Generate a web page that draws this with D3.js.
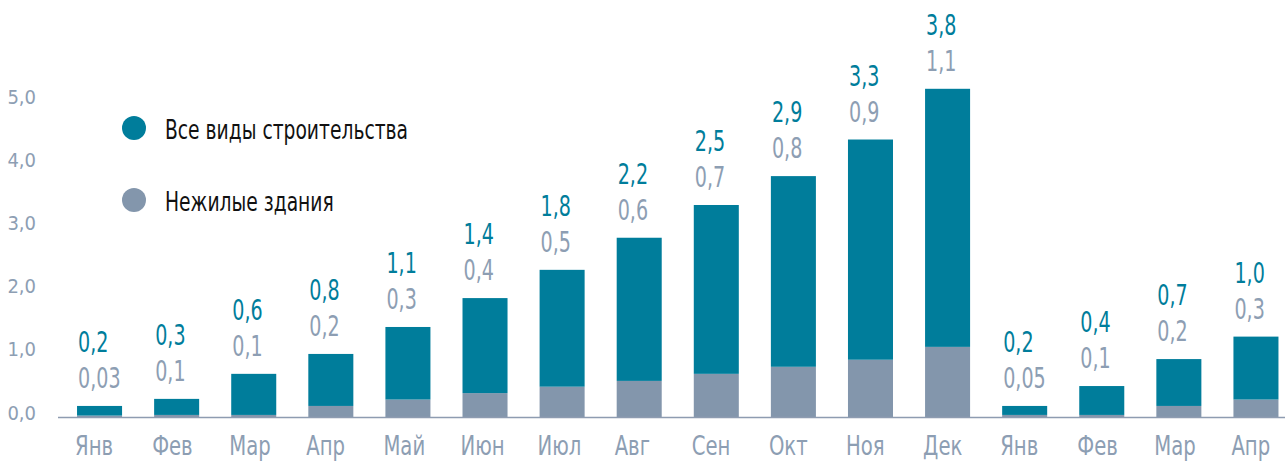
<!DOCTYPE html>
<html>
<head>
<meta charset="utf-8">
<script src="https://cdn.jsdelivr.net/npm/d3@7"></script>
<style>
  body { margin: 0; background: #fff; }
  text { font-family: "DejaVu Sans Condensed", "DejaVu Sans", sans-serif; }
</style>
</head>
<body>
<div id="chart"></div>
<script>
let months = ['Янв', 'Фев', 'Мар', 'Апр', 'Май', 'Июн', 'Июл', 'Авг', 'Сен', 'Окт', 'Ноя', 'Дек', 'Янв', 'Фев', 'Мар', 'Апр']
// segment heights as drawn in the picture
let allTypes = [0.15, 0.25, 0.64, 0.81, 1.13, 1.48, 1.82, 2.23, 2.63, 2.97, 3.43, 4.02, 0.14, 0.45, 0.73, 0.98]
let nonResidential = [0.03, 0.04, 0.04, 0.18, 0.28, 0.38, 0.48, 0.57, 0.68, 0.79, 0.90, 1.10, 0.04, 0.04, 0.18, 0.28]
// value labels printed above the bars
let allTypesLabels = ['0,2', '0,3', '0,6', '0,8', '1,1', '1,4', '1,8', '2,2', '2,5', '2,9', '3,3', '3,8', '0,2', '0,4', '0,7', '1,0']
let nonResidentialLabels = ['0,03', '0,1', '0,1', '0,2', '0,3', '0,4', '0,5', '0,6', '0,7', '0,8', '0,9', '1,1', '0,05', '0,1', '0,2', '0,3']
let yTicks = [0, 1, 2, 3, 4, 5]
let legendLabels = ['Все виды строительства', 'Нежилые здания']

let width = 1285
let height = 461
let teal = '#007d9b'
let grey = '#8396ac'
let labelGrey = '#8d9eb3'

let svg = d3.select('#chart')
  .append('svg')
    .attr('width', width)
    .attr('height', height)

let xScale = d3.scaleBand()
  .domain(d3.range(months.length))
  .range([61, 1294.5])
  .paddingInner(0.416)
  .paddingOuter(0.208)

let yScale = d3.scaleLinear().domain([0, 5]).range([417.5, 96.5])
let yLabelScale = d3.scaleLinear().domain([0, 5]).range([419, 103])

let rows = months.map((m, i) => ({ i: i, nonRes: nonResidential[i], all: allTypes[i] }))
let series = d3.stack().keys(['nonRes', 'all'])(rows)
let colors = { nonRes: grey, all: teal }

// Bars
svg.append('g')
  .selectAll('g')
  .data(series)
  .enter().append('g')
    .attr('fill', d => colors[d.key])
  .selectAll('rect')
  .data(d => d)
  .enter().append('rect')
    .attr('x', d => xScale(d.data.i))
    .attr('y', d => yScale(d[1]))
    .attr('width', xScale.bandwidth())
    .attr('height', d => yScale(d[0]) - yScale(d[1]))

// Value labels (narrowed to mimic the condensed face)
let labels = svg.append('g')
rows.forEach((d, i) => {
  let top = yScale(d.nonRes + d.all)
  labels.append('text')
    .attr('transform', `translate(${xScale(i) + 1}, ${top - 18}) scale(0.76, 1)`)
    .attr('fill', labelGrey)
    .attr('font-size', 28)
    .text(nonResidentialLabels[i])
  labels.append('text')
    .attr('transform', `translate(${xScale(i) + 1}, ${top - 54}) scale(0.76, 1)`)
    .attr('fill', teal)
    .attr('font-size', 28)
    .text(allTypesLabels[i])
})

// Baseline
svg.append('line')
  .attr('x1', 58)
  .attr('x2', width)
  .attr('y1', yScale(0))
  .attr('y2', yScale(0))
  .attr('stroke', '#8e9cb1')
  .attr('stroke-width', 1.5)

// X axis (month labels)
let xAxis = svg.append('g')
  .attr('transform', `translate(0, ${yScale(0)})`)
  .call(d3.axisBottom(xScale).tickSize(0).tickFormat(i => months[i]))
xAxis.select('.domain').remove()
xAxis.selectAll('text')
  .attr('x', 0)
  .attr('y', 0)
  .attr('dy', 0)
  .attr('transform', `translate(${-xScale.bandwidth() / 2 - 2}, 37.5) scale(0.84, 1)`)
  .attr('text-anchor', 'start')
  .attr('fill', labelGrey)
  .attr('font-size', 26)
  .attr('font-family', null)

// Y axis (tick labels only)
let yAxis = svg.append('g')
  .attr('transform', 'translate(36, 0)')
  .call(d3.axisLeft(yLabelScale).tickValues(yTicks).tickSize(0)
    .tickFormat(d => d3.format('.1f')(d).replace('.', ',')))
yAxis.select('.domain').remove()
yAxis.selectAll('text')
  .attr('x', 0)
  .attr('dy', 0)
  .attr('fill', labelGrey)
  .attr('font-size', 20)
  .attr('font-family', null)

// Legend
let legend = svg.append('g')
legendLabels.forEach((label, i) => {
  let cy = 128 + i * 72
  legend.append('circle')
    .attr('cx', 134)
    .attr('cy', cy)
    .attr('r', 12)
    .attr('fill', i === 0 ? teal : grey)
  legend.append('text')
    .attr('transform', `translate(165, ${cy + 11}) scale(0.8, 1)`)
    .attr('fill', '#111')
    .attr('font-size', 26)
    .text(label)
})
</script>
</body>
</html>
